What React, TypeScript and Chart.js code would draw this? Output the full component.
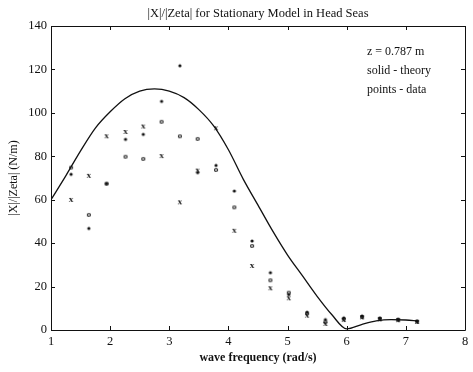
import React, { useEffect, useRef } from "react";
import { Chart, registerables } from "chart.js";

Chart.register(...registerables);

// Measured response at each test frequency (three runs, marked *, o, x)
const freq = [1.34, 1.64, 1.94, 2.26, 2.56, 2.87, 3.18, 3.48, 3.79, 4.10, 4.40, 4.71, 5.02, 5.33, 5.64, 5.95, 6.26, 6.56, 6.87, 7.19];
const runStar = [71.7, 46.8, 67.4, 87.8, 90.1, 105.3, 121.7, 72.5, 75.8, 64.0, 41.0, 26.4, 16.3, 8.2, 4.8, 5.6, 6.5, 5.5, 4.9, 4.1];
const runCircle = [74.8, 53.0, 67.4, 79.8, 78.8, 95.9, 89.2, 88.0, 73.7, 56.5, 38.7, 22.9, 17.2, 7.6, 3.6, 5.0, 6.0, 5.2, 4.7, 3.9];
const runCross = [59.9, 71.0, 89.2, 91.2, 93.7, 80.1, 58.8, 73.4, 92.9, 45.7, 29.5, 19.2, 14.6, 6.6, 2.8, 4.6, 5.8, 4.9, 4.5, 3.7];

// Theoretical transfer function
const theoryFreq = [1.0, 1.25, 1.5, 1.75, 2.0, 2.25, 2.5, 2.75, 3.0, 3.25, 3.5, 3.75, 4.0, 4.25, 4.5, 4.75, 5.0, 5.25, 5.5, 5.75, 6.0, 6.25, 6.5, 6.75, 7.0, 7.2];
const theoryVal = [60, 71, 82.5, 93, 100.5, 106.5, 110, 111, 110, 107, 101.5, 94, 83, 69.5, 57.5, 45.5, 34.5, 25, 15.5, 7, 0.5, 2.5, 4.2, 4.8, 4.6, 4.1];

const titleText = "|X|/|Zeta| for Stationary Model in Head Seas";
const xTitle = "wave frequency (rad/s)";
const yTitle = "|X|/|Zeta| (N/m)";
const noteLines = ["z = 0.787 m", "solid - theory", "points - data"];

const SERIF = '"Liberation Serif", "DejaVu Serif", serif';
const INK = "#111";

function glyph(ch: string, size: number): HTMLCanvasElement {
  const c = document.createElement("canvas");
  c.width = 10;
  c.height = 10;
  const g = c.getContext("2d")!;
  g.fillStyle = INK;
  if (ch === "*") {
    g.beginPath();
    g.arc(5, 5, 1.6, 0, Math.PI * 2);
    g.fill();
  } else {
    g.font = `bold ${size}px ${SERIF}`;
    g.textAlign = "center";
    g.textBaseline = "middle";
    g.fillText(ch, 5, 5);
  }
  return c;
}

const framePlugin = {
  id: "frame",
  afterDatasetsDraw(chart: any) {
    const { ctx, chartArea, scales } = chart;
    const { left, right, top, bottom } = chartArea;
    ctx.save();
    ctx.strokeStyle = INK;
    ctx.lineWidth = 1;
    ctx.beginPath();
    ctx.rect(Math.round(left) + 0.5, Math.round(top) + 0.5, Math.round(right - left), Math.round(bottom - top));
    const len = 4;
    scales.x.ticks.forEach((t: any) => {
      const px = Math.round(scales.x.getPixelForValue(t.value)) + 0.5;
      ctx.moveTo(px, bottom);
      ctx.lineTo(px, bottom - len);
      ctx.moveTo(px, top);
      ctx.lineTo(px, top + len);
    });
    scales.y.ticks.forEach((t: any) => {
      const py = Math.round(scales.y.getPixelForValue(t.value)) + 0.5;
      ctx.moveTo(left, py);
      ctx.lineTo(left + len, py);
      ctx.moveTo(right, py);
      ctx.lineTo(right - len, py);
    });
    ctx.stroke();

    ctx.fillStyle = INK;
    ctx.textBaseline = "middle";
    ctx.font = `12.5px ${SERIF}`;
    ctx.textAlign = "center";
    ctx.fillText(titleText, (left + right) / 2, 14);

    ctx.font = `12px ${SERIF}`;
    ctx.textAlign = "left";
    noteLines.forEach((s, i) => ctx.fillText(s, 367, 52 + i * 19));
    ctx.restore();
  },
};

export default function App() {
  const ref = useRef<HTMLCanvasElement>(null);

  useEffect(() => {
    const toPts = (ys: number[]) => freq.map((x, i) => ({ x, y: ys[i] }));
    const chart = new Chart(ref.current!, {
      type: "scatter",
      data: {
        datasets: [
          {
            type: "line",
            label: "theory",
            data: theoryFreq.map((x, i) => ({ x, y: theoryVal[i] })),
            borderColor: INK,
            borderWidth: 1.3,
            pointRadius: 0,
            cubicInterpolationMode: "monotone",
            fill: false,
          } as any,
          { label: "*", data: toPts(runStar), pointStyle: glyph("*", 9) as any },
          { label: "o", data: toPts(runCircle), pointStyle: glyph("o", 9) as any },
          { label: "x", data: toPts(runCross), pointStyle: glyph("x", 9) as any },
        ],
      },
      options: {
        animation: false,
        responsive: false,
        devicePixelRatio: 1,
        layout: { padding: { left: 0, right: 8, top: 26, bottom: 0 } },
        plugins: {
          legend: { display: false },
          tooltip: { enabled: false },
          title: { display: false },
        },
        scales: {
          x: {
            type: "linear",
            min: 1,
            max: 8,
            ticks: { stepSize: 1, color: INK, font: { family: SERIF, size: 12.5 }, padding: 4 },
            grid: { display: false, drawTicks: false },
            border: { display: false },
            title: {
              display: true,
              text: xTitle,
              color: INK,
              font: { family: SERIF, size: 12, weight: "bold" },
              padding: { top: 4, bottom: 7 },
            },
            afterFit(scale: any) {
              scale.height = 42;
            },
          },
          y: {
            min: 0,
            max: 140,
            ticks: { stepSize: 20, color: INK, font: { family: SERIF, size: 12.5 }, padding: 4 },
            grid: { display: false, drawTicks: false },
            border: { display: false },
            title: {
              display: true,
              text: yTitle,
              color: INK,
              font: { family: SERIF, size: 12 },
              padding: { top: 7, bottom: 0 },
            },
            afterFit(scale: any) {
              scale.width = 51;
            },
          },
        },
      },
      plugins: [framePlugin],
    });
    return () => chart.destroy();
  }, []);

  return (
    <div style={{ position: "fixed", left: 0, top: 0, width: 473, height: 372, background: "#fff" }}>
      <canvas ref={ref} width={473} height={372} />
    </div>
  );
}
